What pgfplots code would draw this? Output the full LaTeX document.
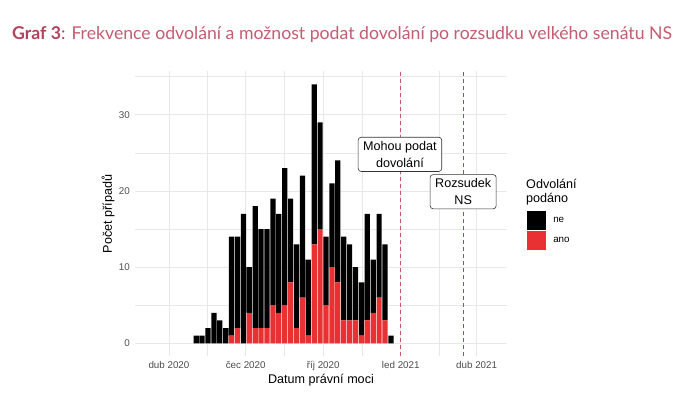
\documentclass[border=0pt]{standalone}
\usepackage{fontspec}
\setmainfont{Liberation Sans}
\newfontfamily\titlefont{Lato}
\usepackage{graphicx}
\usepackage{pgfplots}
\usepackage{pgfplotstable}
\pgfplotsset{compat=1.18}
\definecolor{anoc}{RGB}{233,48,50}
\definecolor{gridc}{RGB}{232,232,232}
\definecolor{tickc}{RGB}{77,77,77}
\definecolor{titleA}{RGB}{178,68,94}
\definecolor{titleB}{RGB}{196,92,114}
\definecolor{vred}{RGB}{200,88,108}
\definecolor{vblue}{RGB}{92,98,168}

\pgfplotstableread{
x ano ne
123.3 0 1
130.3 0 1
137.3 0 2
144.3 0 4
151.3 0 3
158.3 0 2
165.3 1 13
172.3 2 12
179.3 0 17
186.3 4 6
193.3 2 16
200.3 2 13
207.3 2 13
214.3 5 14
221.3 4 13
228.3 5 18
235.3 8 11
242.3 2 11
249.3 6 16
256.3 1 10
263.3 13 21
270.3 15 14
277.3 5 9
284.3 10 11
291.3 8 16
298.3 3 11
305.3 3 10
312.3 3 7
319.3 1 7
326.3 3 14
333.3 4 7
340.3 6 11
347.3 3 10
354.3 0 1
}\datatable

\begin{document}
\begin{tikzpicture}
\path[fill=white] (0bp,0bp) rectangle (682bp,405bp);
\node[anchor=west, inner sep=0pt] at (12bp,370bp) {\resizebox{660bp}{!}{\titlefont\color{titleA}\bfseries Graf 3\mdseries: \color{titleB}Frekvence odvolání a možnost podat dovolání po rozsudku velkého senátu NS}};

\begin{axis}[
  at={(135bp,48.7bp)}, anchor=south west,
  scale only axis, width=372bp, height=285bp,
  xmin=50.7, xmax=492, ymin=-1.7, ymax=35.7,
  ybar stacked, bar width=6.2,
  xtick={91,182,274,366,456},
  xticklabels={dub 2020, čec 2020, říj 2020, led 2021, dub 2021},
  minor xtick={136.5,228,320,411},
  ytick={0,10,20,30},
  minor ytick={5,15,25,35},
  grid=both,
  major grid style={draw=gridc, line width=0.6bp},
  minor grid style={draw=gridc, line width=0.3bp},
  axis line style={draw=none},
  major tick length=0pt, minor tick length=0pt,
  /pgf/number format/assume math mode=true,
  tick label style={font=\fontsize{9.8bp}{11bp}\selectfont, text=tickc},
  yticklabel style={inner sep=0pt, xshift=-5bp},
  xticklabel style={inner sep=0pt, yshift=-4.5bp},
  xlabel={Datum právní moci},
  ylabel={Počet případů},
  label style={font=\fontsize{12.6bp}{14bp}\selectfont},
  xlabel style={at={(axis description cs:0.5,-0.083)}, anchor=center},
  ylabel style={at={(axis description cs:-0.0726,0.5)}, anchor=center},
  legend style={at={(axis description cs:1.054,0.509)}, anchor=north west,
    draw=none, fill=none, inner sep=0pt, row sep=1.7bp,
    font=\fontsize{9.8bp}{11bp}\selectfont,
    nodes={inner sep=0pt, anchor=west},
    /tikz/every odd column/.append style={column sep=7.7bp}},
  legend image code/.code={\path[#1,draw=none] (0bp,-9.15bp) rectangle (18.3bp,9.15bp);},
  reverse legend,
]
\addplot[fill=anoc, draw=none] table[x=x, y=ano] {\datatable};
\addlegendentry{ano}
\addplot[fill=black, draw=none] table[x=x, y=ne] {\datatable};
\addlegendentry{ne}
\end{axis}

\begin{axis}[
  at={(135bp,48.7bp)}, anchor=south west,
  scale only axis, width=372bp, height=285bp,
  xmin=50.7, xmax=492, ymin=-1.7, ymax=35.7,
  hide axis, clip=false,
]
\addplot[vred, line width=0.9bp, dash pattern=on 4bp off 3bp] coordinates {(365,-1.7) (365,35.7)};
\addplot[vblue, line width=0.9bp, dash pattern=on 4bp off 3bp] coordinates {(440,-1.7) (440,35.7)};
\node[draw=black!80, fill=white, rounded corners=3bp, line width=0.6bp, align=center, inner xsep=5bp, inner ysep=4bp, font=\fontsize{12.6bp}{17bp}\selectfont] at (axis cs:365,24.8) {Mohou podat\\dovolání};
\node[draw=black!80, fill=white, rounded corners=3bp, line width=0.6bp, align=center, inner xsep=5bp, inner ysep=4bp, font=\fontsize{12.6bp}{17bp}\selectfont] at (axis cs:440,19.9) {Rozsudek\\NS};
\end{axis}
\node[anchor=north west, inner sep=0pt, align=left, font=\fontsize{12.6bp}{13.5bp}\selectfont] at (526bp,225.5bp) {Odvolání\\podáno};
\end{tikzpicture}
\end{document}
